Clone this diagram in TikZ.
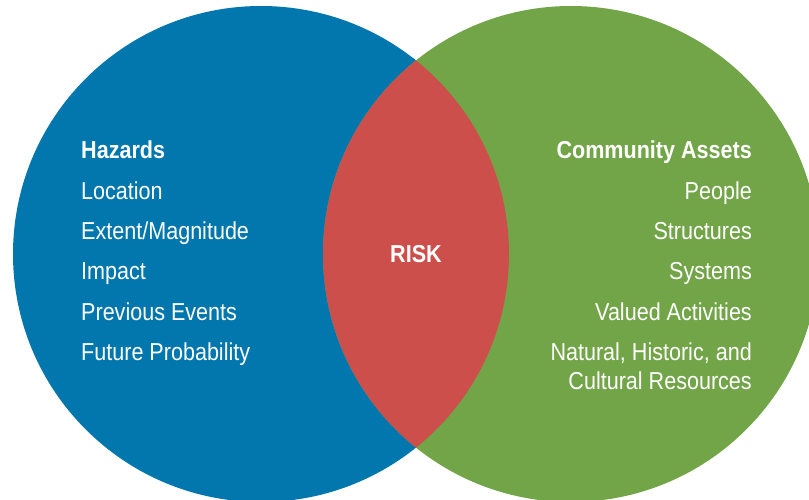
\documentclass[tikz,border=0pt]{standalone}
\usepackage{fontspec}
\setmainfont[FakeStretch=0.88]{Liberation Sans}
\usepackage{xcolor}
\usepackage{tikz}
\usetikzlibrary{positioning}

\definecolor{hazardblue}{HTML}{0277AD}
\definecolor{assetgreen}{HTML}{72A448}
\definecolor{riskred}{HTML}{CD4F4C}

\tikzset{
  itemtext/.style={text=white, inner sep=0pt, font=\fontsize{24.5}{29}\selectfont},
  headtext/.style={itemtext, font=\fontsize{24.5}{29}\selectfont\bfseries}
}

\begin{document}
\begin{tikzpicture}[x=1pt, y=-1pt]
            \useasboundingbox (0,0) rectangle (809,499);          % page size
            \coordinate (hzc) at (261,254);                       % centre of hazards circle
            \coordinate (asc) at (571,254);                       % centre of assets circle
            \fill [hazardblue] (hzc) circle [radius=248pt];       % hazards circle
            \fill [assetgreen] (asc) circle [radius=248pt];       % assets circle
            \begin{scope}
              \clip (hzc) circle [radius=248pt];
              \fill [riskred] (asc) circle [radius=248pt];        % overlap
            \end{scope}
            \node [headtext] (risk) at (416,254) {RISK};          % overlap label
            % left list
            \node [headtext, anchor=base west] (hazards) at (81,158) {Hazards};
            \node [itemtext, anchor=base west] (location) at (81,199) {Location};
            \node [itemtext, anchor=base west] (extent) at (81,239) {Extent/Magnitude};
            \node [itemtext, anchor=base west] (impact) at (81,279) {Impact};
            \node [itemtext, anchor=base west] (previous) at (81,320) {Previous Events};
            \node [itemtext, anchor=base west] (future) at (81,360) {Future Probability};
            % right list
            \node [headtext, anchor=base east] (assets) at (752,158) {Community Assets};
            \node [itemtext, anchor=base east] (people) at (752,199) {People};
            \node [itemtext, anchor=base east] (structures) at (752,239) {Structures};
            \node [itemtext, anchor=base east] (systems) at (752,279) {Systems};
            \node [itemtext, anchor=base east] (valued) at (752,320) {Valued Activities};
            \node [itemtext, anchor=base east] (natural) at (752,360) {Natural, Historic, and};
            \node [itemtext, anchor=base east] (cultural) at (752,389) {Cultural Resources};
\end{tikzpicture}
\end{document}
